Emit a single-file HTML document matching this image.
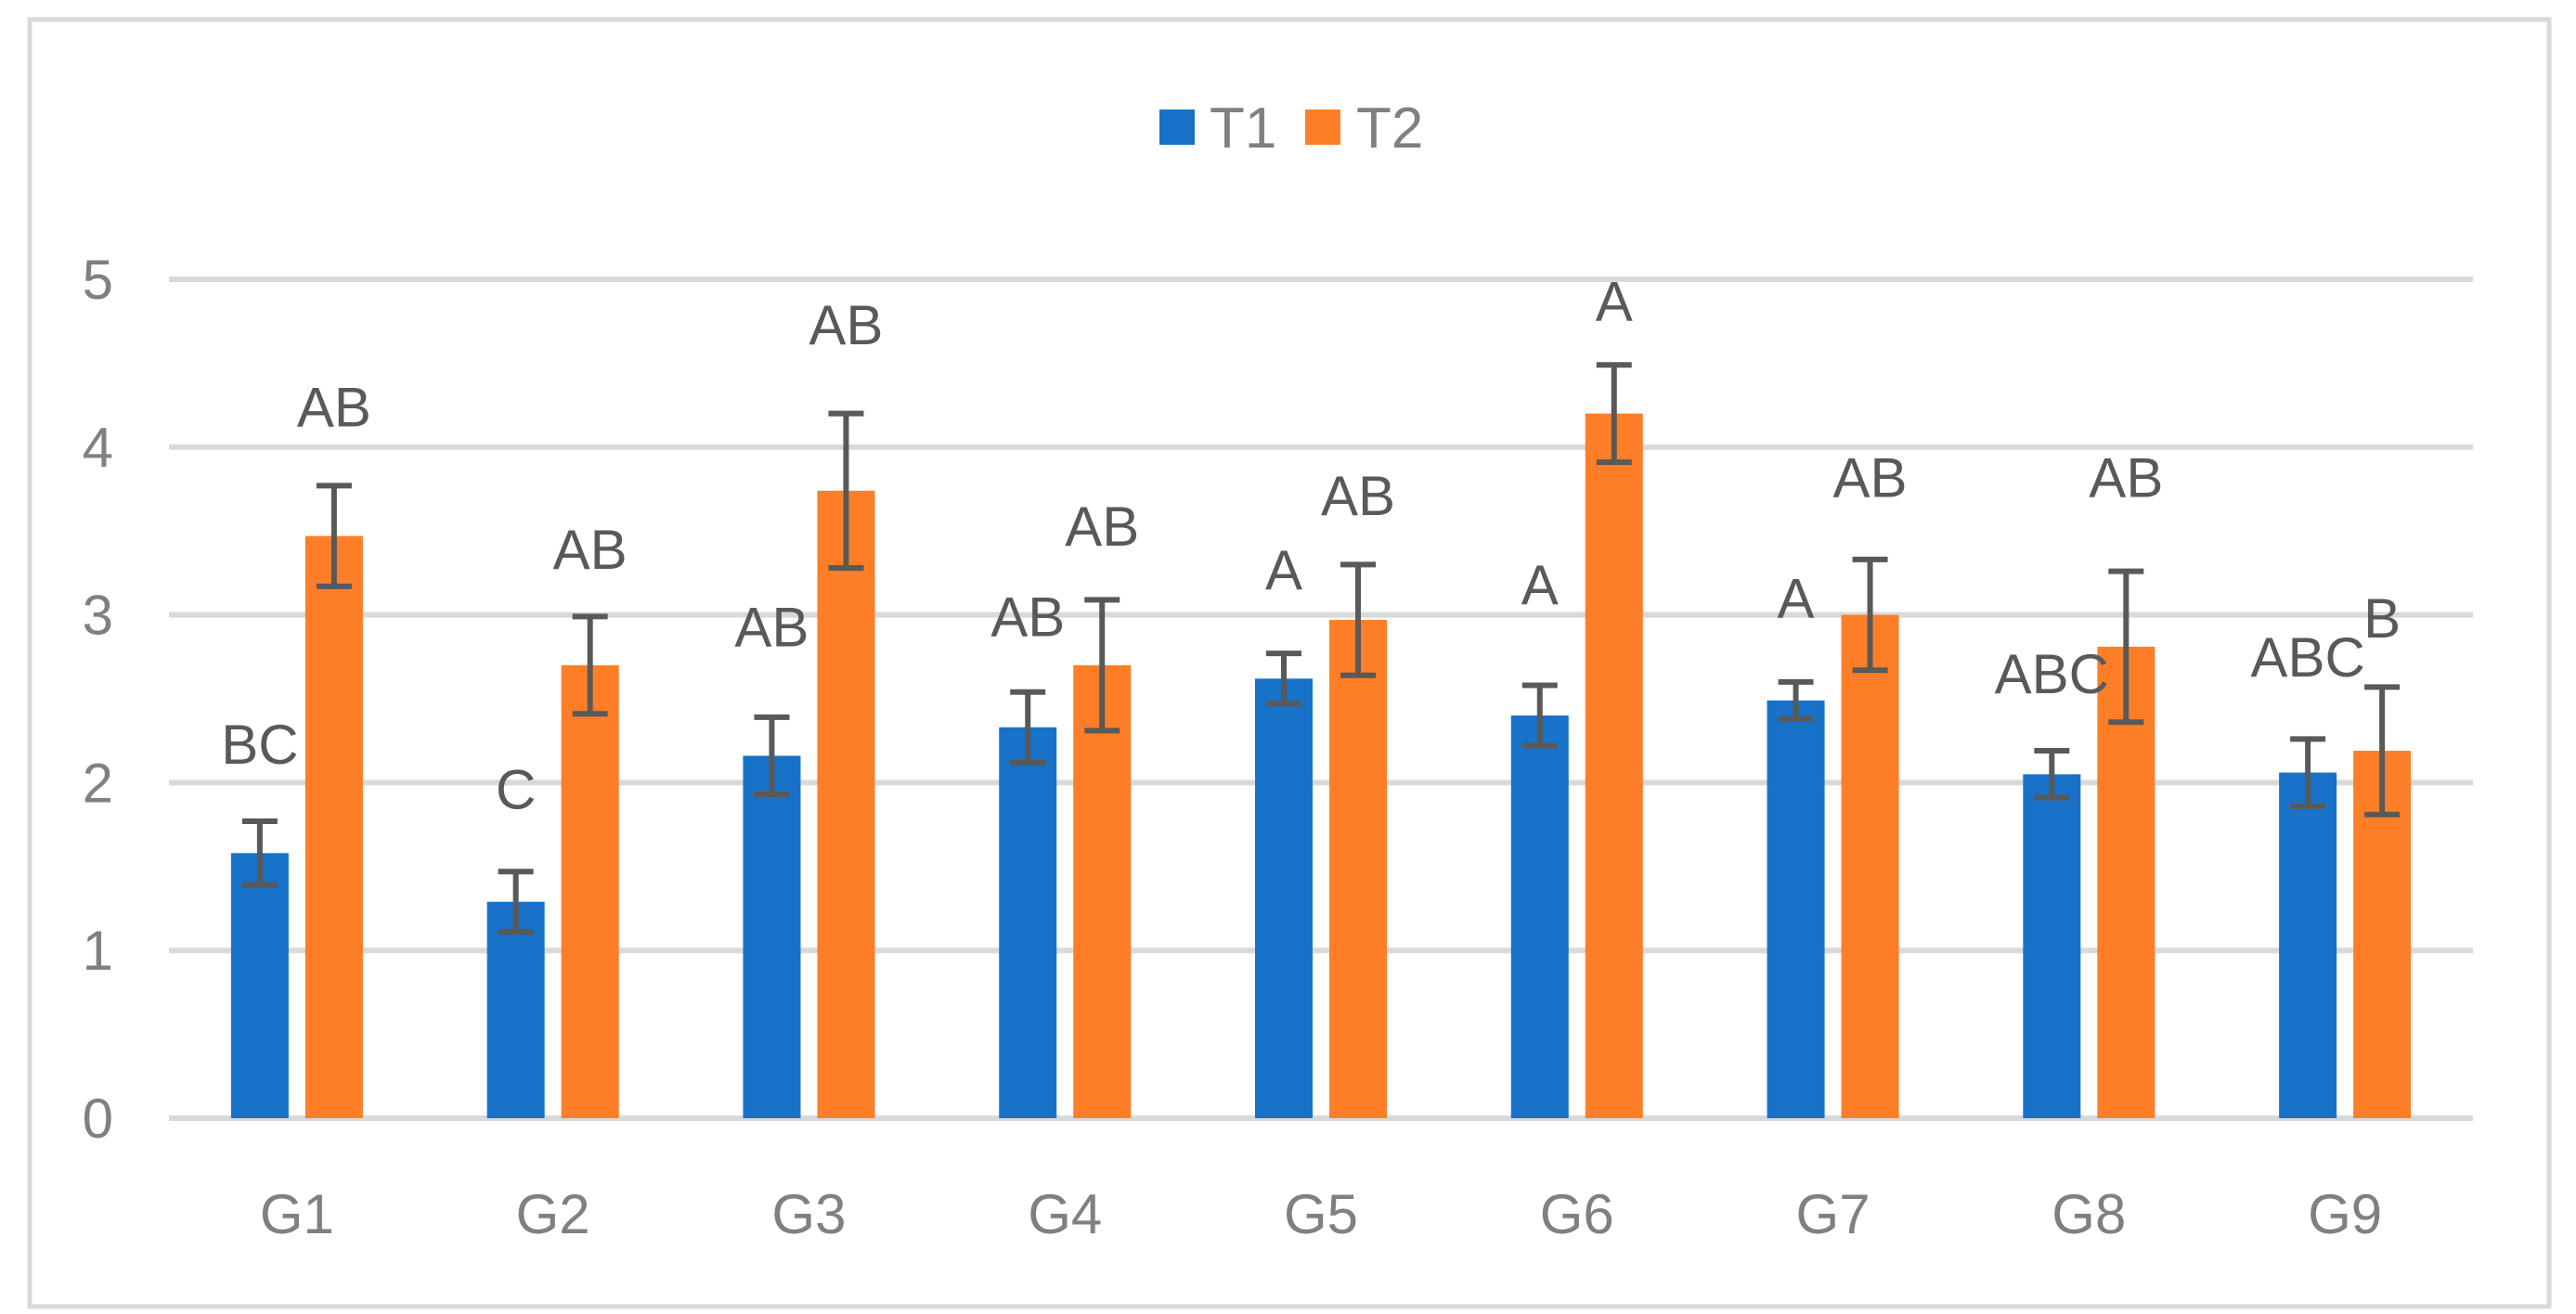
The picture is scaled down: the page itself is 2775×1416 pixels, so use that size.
<!DOCTYPE html>
<html><head><meta charset="utf-8"><style>
html,body{margin:0;padding:0;background:#fff}
svg{display:block;font-family:"Liberation Sans",sans-serif}
</style></head><body>
<svg id="chart" width="2775" height="1416" viewBox="0 0 2775 1416" xmlns="http://www.w3.org/2000/svg">
<rect x="32" y="21" width="2714" height="1387" fill="#fff" stroke="#D9D9D9" stroke-width="5"/>
<g id="grid"></g>
<g id="bars"></g>
<g id="errs"></g>
<g id="labels"></g>
<g id="axes"></g>
<g>
<rect x="1249" y="118" width="38" height="38" fill="#1772C8"/>
<text x="1303" y="159" font-size="62" fill="#808080">T1</text>
<rect x="1406" y="118" width="38" height="38" fill="#FE7E27"/>
<text x="1461" y="159" font-size="62" fill="#808080">T2</text>
</g>
</svg>
<script>
const categories = ["G1","G2","G3","G4","G5","G6","G7","G8","G9"];
const t1Values = [1.58,1.29,2.16,2.33,2.62,2.40,2.49,2.05,2.06];
const t1Err = [0.19,0.18,0.23,0.21,0.15,0.18,0.11,0.14,0.20];
const t2Values = [3.47,2.70,3.74,2.70,2.97,4.20,3.00,2.81,2.19];
const t2Err = [0.30,0.29,0.46,0.39,0.33,0.29,0.33,0.45,0.38];
const t1Letters = ["BC","C","AB","AB","A","A","A","ABC","ABC"];
const t1LetterY = [2.23,1.96,2.93,2.99,3.27,3.18,3.10,2.65,2.75];
const t2Letters = ["AB","AB","AB","AB","AB","A","AB","AB","B"];
const t2LetterY = [4.24,3.39,4.73,3.53,3.71,4.87,3.82,3.82,2.98];
const yTicks = [0,1,2,3,4,5];

const NS="http://www.w3.org/2000/svg";
const X0=182,X1=2664,Y0=1205,Y5=301;
const band=(X1-X0)/categories.length;
const y=v=>Y0-(Y0-Y5)*v/5;
const xc=i=>X0+band*(i+0.5);
const BW=62,GAP=18;
function mk(tag,attrs,parent){const e=document.createElementNS(NS,tag);for(const k in attrs)e.setAttribute(k,attrs[k]);document.getElementById(parent).appendChild(e);return e;}

yTicks.forEach(t=>{
  const l=mk('line',{x1:X0,x2:X1,y1:y(t),y2:y(t),stroke:'#D9D9D9','stroke-width':6},'grid');
  
  
  const tx=mk('text',{x:122,y:y(t)+21,'font-size':60,fill:'#808080','text-anchor':'end'},'axes');
  tx.textContent=t;
  
  
});
categories.forEach((c,i)=>{
  const tx=mk('text',{x:xc(i),y:1329,'font-size':60,fill:'#808080','text-anchor':'middle'},'axes');
  tx.textContent=c;
  
  
  const series=[[t1Values,t1Err,t1Letters,t1LetterY,'#1772C8',-1,'t1'],[t2Values,t2Err,t2Letters,t2LetterY,'#FE7E27',1,'t2']];
  series.forEach(([vals,errs,lets,ly,col,side,nm])=>{
    const cx=xc(i)+side*(GAP/2+BW/2);
    const v=vals[i];
    const r=mk('rect',{x:cx-BW/2,y:y(v),width:BW,height:Y0-y(v),fill:col},'bars');
    
    
    const g=mk('g',{stroke:'#595959','stroke-width':6},'errs');
    
    
    const hi=y(v+errs[i]),lo=y(v-errs[i]);
    [[cx,hi,cx,lo],[cx-19,hi,cx+19,hi],[cx-19,lo,cx+19,lo]].forEach(p=>{
      const l=document.createElementNS(NS,'line');
      l.setAttribute('x1',p[0]);l.setAttribute('y1',p[1]);l.setAttribute('x2',p[2]);l.setAttribute('y2',p[3]);
      g.appendChild(l);
    });
    const lt=mk('text',{x:cx,y:y(ly[i])+21,'font-size':60,fill:'#595959','text-anchor':'middle'},'labels');
    lt.textContent=lets[i];
    
    
  });
});
</script>
</body></html>
